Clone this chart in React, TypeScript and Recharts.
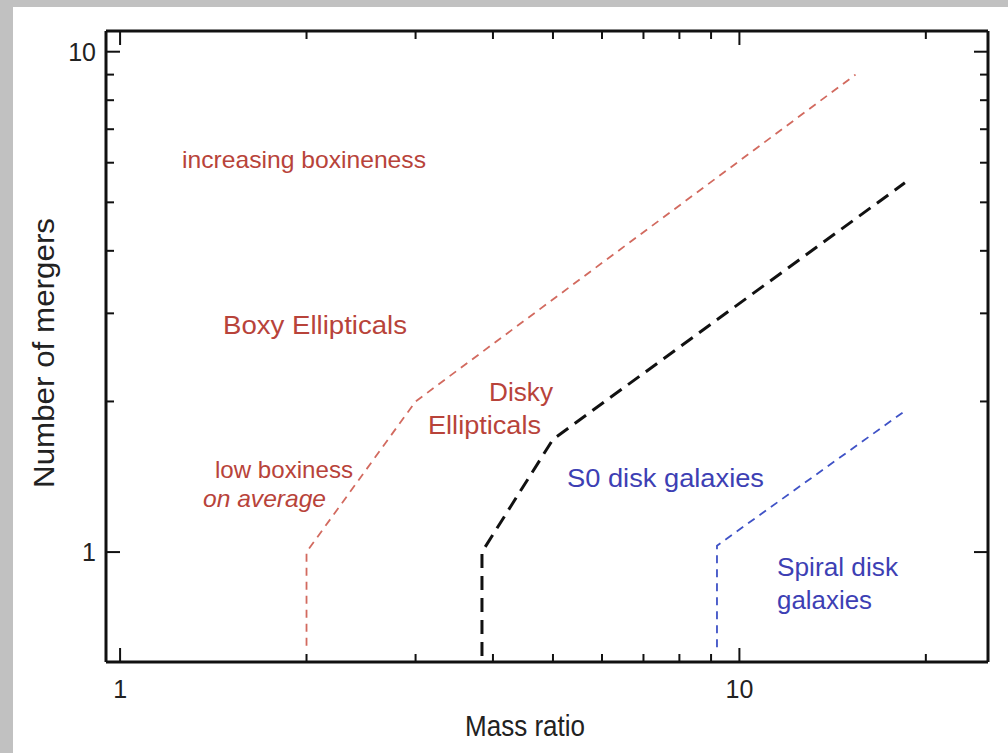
import React from 'react';
import { LineChart, Line, XAxis, YAxis } from 'recharts';

// boundary lines (mass ratio vs number of mergers)
const boxyX = [2, 2, 3.0, 15.4];
const boxyY = [0.65, 1, 2.0, 9.0];
const diskyX = [3.84, 3.84, 5.0, 18.5];
const diskyY = [0.62, 1, 1.68, 5.47];
const spiralX = [9.2, 9.2, 18.4];
const spiralY = [0.645, 1.03, 1.905];

const xTicks = [1, 2, 3, 4, 5, 6, 7, 8, 9, 10, 20];
const yTicks = [1, 2, 3, 4, 5, 6, 7, 8, 9, 10];
const majorTicks = [1, 10];

const toPoints = (xs: number[], ys: number[]) => xs.map((x, i) => ({ x, y: ys[i] }));
const boxy = toPoints(boxyX, boxyY);
const disky = toPoints(diskyX, diskyY);
const spiral = toPoints(spiralX, spiralY);

const FONT = '"Liberation Sans", Arial, Helvetica, sans-serif';
const RED_TEXT = '#b8433a';
const RED_LINE = '#d26a5f';
const BLUE_TEXT = '#3d3fb4';
const BLUE_LINE = '#3f52c6';

const W = 1008;
const H = 753;
// axes get 1px each so they still render
const margin = { top: 30, right: 19, bottom: 90, left: 105 };

// inward ticks, long for decades
const makeTick = (side: 'bottom' | 'top' | 'left' | 'right', labels: boolean) => (props: any) => {
  const { x, y, payload } = props;
  const v = payload.value;
  const len = majorTicks.includes(v) ? 14 : 8;
  let line;
  if (side === 'bottom') line = <line x1={x} y1={y} x2={x} y2={y - len} stroke="#111" strokeWidth={2} />;
  else if (side === 'top') line = <line x1={x} y1={y} x2={x} y2={y + len} stroke="#111" strokeWidth={2} />;
  else if (side === 'left') line = <line x1={x} y1={y} x2={x + len} y2={y} stroke="#111" strokeWidth={2} />;
  else line = <line x1={x} y1={y} x2={x - len} y2={y} stroke="#111" strokeWidth={2} />;
  let label = null;
  if (labels && majorTicks.includes(v)) {
    if (side === 'bottom')
      label = (
        <text x={x} y={y + 27} textAnchor="middle" dominantBaseline="central" fontSize={25} fill="#222" fontFamily={FONT}>
          {v}
        </text>
      );
    else
      label = (
        <text x={x - 10} y={y} textAnchor="end" dominantBaseline="central" fontSize={25} fill="#222" fontFamily={FONT}>
          {v}
        </text>
      );
  }
  return (
    <g>
      {line}
      {label}
    </g>
  );
};

const notes = [
  { text: 'increasing boxineness', x: 182, y: 159, len: 244, size: 24, color: RED_TEXT, italic: false },
  { text: 'Boxy Ellipticals', x: 223, y: 325, len: 184, size: 26, color: RED_TEXT, italic: false },
  { text: 'Disky', x: 489, y: 392, len: 64, size: 26, color: RED_TEXT, italic: false },
  { text: 'Ellipticals', x: 428, y: 425, len: 113, size: 26, color: RED_TEXT, italic: false },
  { text: 'low boxiness', x: 215, y: 469, len: 138, size: 24, color: RED_TEXT, italic: false },
  { text: 'on average', x: 203, y: 498, len: 123, size: 24, color: RED_TEXT, italic: true },
  { text: 'S0 disk galaxies', x: 567, y: 478, len: 197, size: 26, color: BLUE_TEXT, italic: false },
  { text: 'Spiral disk', x: 777, y: 567, len: 121, size: 25, color: BLUE_TEXT, italic: false },
  { text: 'galaxies', x: 777, y: 600, len: 95, size: 25, color: BLUE_TEXT, italic: false },
];

const axisLine = { stroke: '#111', strokeWidth: 3 };

export default function App() {
  return (
    <div style={{ position: 'absolute', left: 0, top: 0, width: W, height: H, background: '#c1c1c1', overflow: 'hidden' }}>
      <div style={{ position: 'absolute', left: 13, top: 7, right: 0, bottom: 0, background: '#fff' }} />
      <div style={{ position: 'absolute', left: 0, top: 0 }}>
        <LineChart width={W} height={H} margin={margin}>
          <XAxis
            dataKey="x"
            type="number"
            scale="log"
            domain={[0.949, 25.2]}
            allowDataOverflow
            ticks={xTicks}
            interval={0}
            height={1}
            tickSize={0}
            tickMargin={0}
            tickLine={false}
            axisLine={axisLine}
            tick={makeTick('bottom', true)}
          />
          <XAxis
            xAxisId="top"
            orientation="top"
            dataKey="x"
            type="number"
            scale="log"
            domain={[0.949, 25.2]}
            allowDataOverflow
            ticks={xTicks}
            interval={0}
            height={1}
            tickSize={0}
            tickMargin={0}
            tickLine={false}
            axisLine={axisLine}
            tick={makeTick('top', false)}
          />
          <YAxis
            dataKey="y"
            type="number"
            scale="log"
            domain={[0.603, 11.0]}
            allowDataOverflow
            ticks={yTicks}
            interval={0}
            width={1}
            tickSize={0}
            tickMargin={0}
            tickLine={false}
            axisLine={axisLine}
            tick={makeTick('left', true)}
          />
          <YAxis
            yAxisId="right"
            orientation="right"
            type="number"
            scale="log"
            domain={[0.603, 11.0]}
            allowDataOverflow
            ticks={yTicks}
            interval={0}
            width={1}
            tickSize={0}
            tickMargin={0}
            tickLine={false}
            axisLine={axisLine}
            tick={makeTick('right', false)}
          />
          <Line data={boxy} dataKey="y" type="linear" stroke={RED_LINE} strokeWidth={1.8} strokeDasharray="8 6" dot={false} isAnimationActive={false} />
          <Line data={disky} dataKey="y" type="linear" stroke="#111" strokeWidth={3} strokeDasharray="14 8" dot={false} isAnimationActive={false} />
          <Line data={spiral} dataKey="y" type="linear" stroke={BLUE_LINE} strokeWidth={1.8} strokeDasharray="8 6" dot={false} isAnimationActive={false} />
        </LineChart>
      </div>
      <svg width={W} height={H} style={{ position: 'absolute', left: 0, top: 0, pointerEvents: 'none' }}>
        {notes.map((n) => (
          <text
            key={n.text}
            x={n.x}
            y={n.y}
            dominantBaseline="central"
            fontSize={n.size}
            fontStyle={n.italic ? 'italic' : 'normal'}
            fill={n.color}
            fontFamily={FONT}
            textLength={n.len}
            lengthAdjust="spacingAndGlyphs"
          >
            {n.text}
          </text>
        ))}
        <text x={525} y={725} textAnchor="middle" dominantBaseline="central" fontSize={30} fill="#222" fontFamily={FONT} textLength={120} lengthAdjust="spacingAndGlyphs">
          Mass ratio
        </text>
        <text
          x={43}
          y={353}
          transform="rotate(-90 43 353)"
          textAnchor="middle"
          dominantBaseline="central"
          fontSize={30}
          fill="#222"
          fontFamily={FONT}
          textLength={270}
          lengthAdjust="spacingAndGlyphs"
        >
          Number of mergers
        </text>
      </svg>
    </div>
  );
}
